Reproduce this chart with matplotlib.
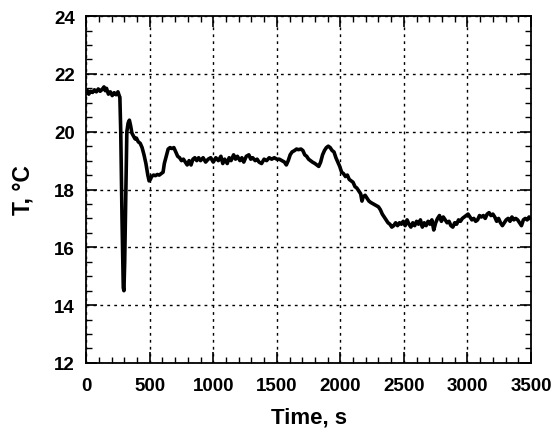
import matplotlib.pyplot as plt
import numpy as np

# temperature trace (time in s, T in deg C)
time_s = [0, 10, 20, 35, 50, 65, 80, 95, 110, 125, 140, 150, 160, 175, 190, 205, 220, 235, 250, 262,
          265, 272, 282, 292, 297, 303, 312, 320, 330, 340, 350, 360, 372, 385, 395, 410, 425, 440,
          455, 470, 485, 495, 505, 515, 530, 545, 560, 575, 590, 605, 615, 630, 645, 660, 675, 690,
          705, 720, 735, 750, 765, 780, 795, 810, 825, 840, 855, 870, 885,
          900, 920, 940, 960, 980, 1000, 1020, 1040, 1060, 1075, 1090, 1110, 1125, 1140, 1160, 1175,
          1190, 1210, 1225, 1240, 1260, 1280, 1295, 1310, 1330, 1345, 1360, 1380, 1400, 1420, 1440,
          1460, 1480, 1500, 1520, 1540, 1560, 1575, 1590, 1605, 1620, 1640, 1655, 1670, 1690, 1705,
          1720, 1735, 1750, 1765, 1780, 1800, 1815, 1830, 1845, 1860, 1875, 1890, 1905, 1920, 1935,
          1950, 1965, 1980, 1995, 2010, 2025, 2040, 2055, 2070, 2085, 2100, 2115, 2130, 2145, 2160,
          2170, 2180, 2195, 2210, 2225, 2240, 2260, 2280, 2300, 2315, 2330, 2345, 2360, 2375, 2390,
          2405, 2420, 2435, 2450, 2465, 2480, 2495, 2510, 2525, 2540, 2555, 2570, 2585, 2600, 2615,
          2630, 2645, 2660, 2675, 2690, 2705, 2720, 2735, 2750, 2765, 2780, 2795, 2810, 2825, 2840,
          2855, 2870, 2885, 2900, 2915, 2930, 2945, 2960, 2975, 2990, 3005, 3020, 3035, 3050, 3065,
          3080, 3095, 3110, 3125, 3140, 3155, 3170, 3185, 3200, 3215, 3230, 3245, 3260, 3275, 3290,
          3305, 3320, 3335, 3350, 3365, 3380, 3395, 3410, 3425, 3440, 3455, 3470, 3485, 3495]
temp_c = [21.35, 21.42, 21.3, 21.4, 21.36, 21.45, 21.38, 21.48, 21.4, 21.46, 21.55, 21.42, 21.5, 21.3,
          21.38, 21.25, 21.35, 21.28, 21.38, 21.22,
          21.2, 20.0, 17.0, 14.6, 14.5, 15.5, 18.0, 20.0, 20.3, 20.4, 20.2, 19.95, 19.85, 19.75, 19.78,
          19.65, 19.6, 19.45, 19.2, 18.9, 18.5, 18.3, 18.35, 18.45, 18.5, 18.48, 18.52, 18.5, 18.55,
          18.6, 18.9, 19.15, 19.4, 19.45, 19.42, 19.45, 19.3, 19.15, 19.1, 19.0, 19.05, 18.95, 18.85,
          19.0, 18.85, 19.05, 19.1, 19.0, 19.1,
          19.0, 19.1, 18.95, 19.05, 19.1, 18.95, 19.1, 19.0, 19.15, 18.9, 19.05, 18.9, 19.1, 19.0, 19.2,
          19.05, 19.15, 19.0, 19.1, 18.95, 19.15, 19.2, 19.05, 19.1, 19.0, 19.05, 18.95, 18.9, 19.05,
          19.0, 19.1, 19.05, 19.1, 19.05, 19.05, 19.0, 18.95, 18.85, 19.0, 19.2, 19.3, 19.35, 19.4,
          19.38, 19.4, 19.35, 19.2, 19.15, 19.05, 19.0, 18.95, 18.9, 18.85, 18.8, 18.95, 19.2, 19.35,
          19.45, 19.5, 19.45, 19.35, 19.3, 19.1, 18.95, 18.8, 18.6, 18.55, 18.45, 18.5, 18.35, 18.3,
          18.25, 18.1, 18.05, 17.95, 17.85, 17.6, 17.75, 17.8, 17.7, 17.6, 17.55, 17.5, 17.45, 17.4,
          17.3, 17.15, 17.05, 16.95, 16.85, 16.8, 16.7, 16.75, 16.85, 16.75, 16.85, 16.8, 16.9, 16.75,
          16.95, 16.8, 16.7, 16.85, 16.75, 16.9, 16.8, 16.95, 16.7, 16.85, 16.75, 16.9, 16.8, 16.95,
          16.6, 16.85, 17.0, 17.1, 16.9, 17.05, 16.95, 16.85, 16.9, 16.75, 16.7, 16.85, 16.8, 16.95,
          16.9, 17.0, 17.05, 17.1, 17.15, 17.05, 16.95, 17.0, 16.9, 16.95, 17.1, 17.05, 17.1, 17.0,
          17.15, 17.2, 17.1, 17.15, 17.05, 16.9, 17.0, 16.85, 16.75, 16.85, 16.95, 17.0, 16.9, 17.05,
          16.95, 17.0, 16.95, 16.85, 16.75, 16.95, 17.0, 16.95, 17.05, 17.0]

x_ticks = [0, 500, 1000, 1500, 2000, 2500, 3000, 3500]
y_ticks = [12, 14, 16, 18, 20, 22, 24]

plt.rcParams['font.family'] = ['Liberation Sans', 'DejaVu Sans']

fig = plt.figure(figsize=(5.56, 4.39), dpi=100)
ax = fig.add_axes([0.155, 0.171, 0.800, 0.790])

ax.plot(time_s, temp_c, color='black', linewidth=2.6)

ax.set_xlim(0, 3500)
ax.set_ylim(12, 24)
ax.set_xticks(x_ticks)
ax.set_yticks(y_ticks)
ax.set_xticks(np.arange(0, 3501, 100), minor=True)
ax.set_yticks(np.arange(12, 24.01, 0.5), minor=True)

ax.grid(True, which='major', color='black', linestyle=(0, (2, 3)), linewidth=1.0)
ax.tick_params(which='both', direction='in', top=True, right=True, colors='black')
ax.tick_params(which='major', length=8, width=1.2, labelsize=13.5)
ax.tick_params(axis='x', which='major', pad=10)
ax.tick_params(axis='y', which='major', pad=8)
ax.tick_params(which='minor', length=4, width=1.0)
for lab in ax.get_xticklabels() + ax.get_yticklabels():
    lab.set_fontweight('bold')
for sp in ax.spines.values():
    sp.set_linewidth(1.3)

ax.set_xlabel('Time, s', fontsize=16, fontweight='bold', labelpad=9)
ax.set_ylabel('T, °C', fontsize=16.5, fontweight='bold', labelpad=14)

fig.savefig('out.png', dpi=100)
